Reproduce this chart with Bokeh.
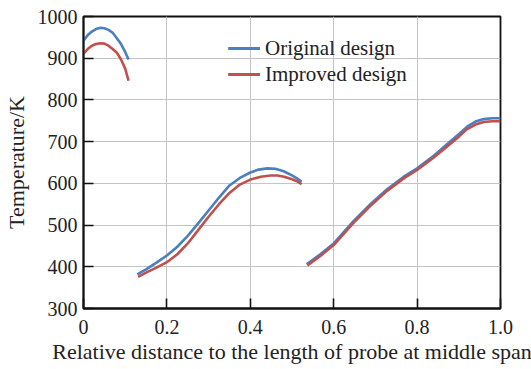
from bokeh.plotting import figure
from bokeh.models import Legend, LegendItem, FixedTicker, Range1d
from bokeh.embed import file_html
from bokeh.resources import INLINE

# Temperature along the probe, three separate spans per design
orig_x1 = [0.0, 0.01, 0.02, 0.03, 0.041, 0.05, 0.06, 0.07, 0.08, 0.09, 0.1, 0.108]
orig_t1 = [942, 955, 964, 970, 973, 972, 968, 961, 948, 934, 915, 897]
impr_x1 = [0.0, 0.01, 0.02, 0.03, 0.041, 0.05, 0.06, 0.07, 0.08, 0.09, 0.1, 0.108]
impr_t1 = [911, 922, 930, 934, 936, 935, 930, 922, 913, 897, 875, 846]

orig_x2 = [0.129, 0.15, 0.175, 0.2, 0.225, 0.25, 0.275, 0.3, 0.325, 0.35, 0.375, 0.4,
           0.42, 0.441, 0.46, 0.48, 0.5, 0.512, 0.523]
orig_t2 = [382, 394, 410, 427, 448, 474, 504, 535, 566, 595, 613, 626,
           633, 636, 635, 629, 619, 612, 604]
impr_x2 = [0.131, 0.15, 0.175, 0.2, 0.225, 0.25, 0.275, 0.3, 0.325, 0.35, 0.375, 0.4,
           0.425, 0.449, 0.465, 0.481, 0.5, 0.512, 0.523]
impr_t2 = [376, 386, 398, 411, 430, 456, 488, 520, 550, 577, 597, 609,
           616, 619, 619, 616, 610, 605, 598]

orig_x3 = [0.535, 0.568, 0.6, 0.648, 0.688, 0.728, 0.768, 0.8, 0.84, 0.88, 0.9, 0.92,
           0.94, 0.96, 0.98, 1.0]
orig_t3 = [406, 430, 456, 510, 550, 586, 616, 636, 666, 701, 718, 736,
           748, 754, 756, 756]
impr_x3 = [0.537, 0.568, 0.6, 0.648, 0.688, 0.728, 0.768, 0.8, 0.84, 0.88, 0.9, 0.92,
           0.94, 0.96, 0.98, 1.0]
impr_t3 = [403, 426, 452, 506, 546, 582, 612, 632, 662, 695, 712, 730,
           741, 747, 749, 749]

x_ticks = [0, 0.2, 0.4, 0.6, 0.8, 1.0]
x_labels = {0: "0", 0.2: "0.2", 0.4: "0.4", 0.6: "0.6", 0.8: "0.8", 1.0: "1.0"}
y_ticks = [300, 400, 500, 600, 700, 800, 900, 1000]

BLUE = "#4a7fc0"
RED = "#c0504d"
FONT = "Liberation Serif"

p = figure(width=531, height=369, output_backend="svg", toolbar_location=None,
           x_range=Range1d(0, 1.0), y_range=Range1d(300, 1000))
p.min_border_left = 83
p.min_border_right = 31
p.min_border_top = 16
p.min_border_bottom = 61
p.background_fill_color = "white"
p.border_fill_color = "white"
p.outline_line_color = "#111111"
p.outline_line_width = 1.8

for ax in (p.xaxis[0], p.yaxis[0]):
    ax.axis_line_color = "#111111"
    ax.axis_line_width = 1.8
    ax.major_tick_in = 10
    ax.major_tick_out = 0
    ax.major_tick_line_color = "#111111"
    ax.major_tick_line_width = 1.6
    ax.minor_tick_line_color = None
    ax.major_label_text_font = FONT
    ax.major_label_text_font_size = "20px"
    ax.major_label_text_color = "#222222"
    ax.axis_label_text_font = FONT
    ax.axis_label_text_font_style = "normal"
    ax.axis_label_text_color = "#222222"

p.xaxis.ticker = FixedTicker(ticks=x_ticks)
p.xaxis.major_label_overrides = x_labels
p.xaxis.major_label_standoff = 11
p.xaxis.axis_label = "Relative distance to the length of probe at middle span"
p.xaxis.axis_label_text_font_size = "22px"
p.xaxis.axis_label_standoff = 2

p.yaxis.ticker = FixedTicker(ticks=y_ticks)
p.yaxis.major_label_standoff = 6
p.yaxis.axis_label = "Temperature/K"
p.yaxis.axis_label_text_font_size = "22px"
p.yaxis.axis_label_standoff = 6

p.xgrid.ticker = FixedTicker(ticks=x_ticks)
p.ygrid.ticker = FixedTicker(ticks=y_ticks)
p.grid.grid_line_color = "#c4c4c4"
p.grid.grid_line_width = 1

orig = [p.line(x, t, line_color=BLUE, line_width=2.6)
        for x, t in ((orig_x1, orig_t1), (orig_x2, orig_t2), (orig_x3, orig_t3))]
impr = [p.line(x, t, line_color=RED, line_width=2.6)
        for x, t in ((impr_x1, impr_t1), (impr_x2, impr_t2), (impr_x3, impr_t3))]

legend = Legend(items=[LegendItem(label="Original design", renderers=orig),
                       LegendItem(label="Improved design", renderers=impr)],
                location=(145, 221))
legend.background_fill_alpha = 0
legend.border_line_color = None
legend.padding = 0
legend.margin = 0
legend.spacing = 0
legend.glyph_width = 32
legend.glyph_height = 26
legend.label_height = 26
legend.label_standoff = 5
legend.label_text_font = FONT
legend.label_text_font_size = "21px"
legend.label_text_color = "#222222"
p.add_layout(legend, "center")

open("out.html", "w").write(file_html(p, INLINE))
